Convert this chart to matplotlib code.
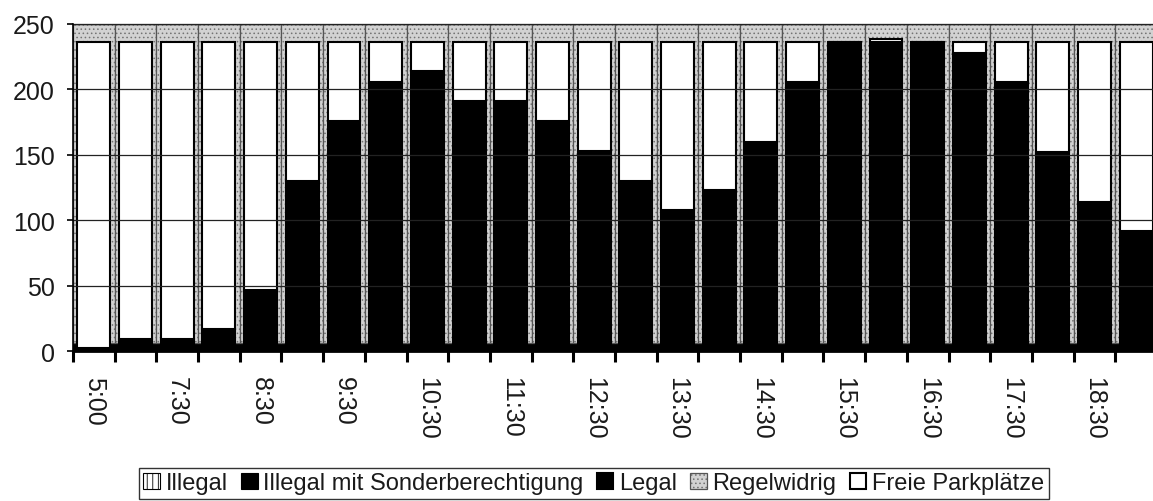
import matplotlib
matplotlib.use("Agg")
import matplotlib.pyplot as plt
import numpy as np

plt.rcParams['font.family'] = ['Liberation Sans', 'DejaVu Sans']
plt.rcParams['hatch.linewidth'] = 0.6

times = ["5:00", "7:00", "7:30", "8:00", "8:30", "9:00", "9:30", "10:00", "10:30",
         "11:00", "11:30", "12:00", "12:30", "13:00", "13:30", "14:00", "14:30",
         "15:00", "15:30", "16:00", "16:30", "17:00", "17:30", "18:00", "18:30", "19:00"]
illegal = [0, 0, 0, 0, 0, 0, 0, 0, 0, 0, 0, 0, 0, 0, 0, 0, 0, 0, 0, 0, 0, 0, 0, 0, 0, 0]
sonder = [6, 6, 6, 6, 6, 6, 6, 6, 6, 6, 6, 6, 6, 6, 6, 6, 6, 6, 6, 6, 6, 6, 6, 6, 6, 6]
legal = [2, 9, 9, 17, 47, 130, 176, 206, 214, 191, 191, 176, 153, 130, 108, 123,
         160, 206, 236, 236, 236, 228, 206, 152, 114, 92]
regelwidrig = [244, 244, 244, 244, 244, 244, 244, 244, 244, 244, 244, 244, 244,
               244, 244, 244, 244, 244, 244, 244, 244, 244, 244, 244, 244, 244]
frei = [234, 227, 227, 219, 189, 106, 60, 30, 22, 45, 45, 60, 83, 106, 128, 113,
        76, 30, 0, 2.5, 0, 8, 30, 84, 122, 144]
yticks = [0, 50, 100, 150, 200, 250]

x = np.arange(len(times))
fig = plt.figure(figsize=(11.53, 5.02), dpi=100)
ax = fig.add_axes([0.0633, 0.2988, 0.9402, 0.6514])

# full-width background columns
b_ill = ax.bar(x, illegal, width=1.0, color='white', edgecolor='black', hatch='|||',
               linewidth=0.8, zorder=1)
b_son = ax.bar(x, sonder, width=1.0, color='black', edgecolor='black', linewidth=0.8, zorder=1)
b_reg = ax.bar(x, regelwidrig, bottom=sonder, width=1.0, color='#d2d2d2',
               edgecolor='#555555', hatch='....', linewidth=0.9, zorder=1)
for p in b_reg:
    p._hatch_color = (0.45, 0.45, 0.45, 1.0)

ax.yaxis.grid(True, color='#222222', linewidth=0.9, zorder=1.5)
ax.set_axisbelow(False)
for gl in ax.get_ygridlines():
    gl.set_zorder(1.5)

# inner bars
b_leg = ax.bar(x, legal, width=0.79, color='black', edgecolor='black', linewidth=1.5, zorder=2)
b_fre = ax.bar(x, frei, bottom=legal, width=0.79, color='white', edgecolor='black',
               linewidth=1.5, zorder=2)

ax.set_xlim(-0.5, len(times) - 0.5)
ax.set_ylim(0, 250)
ax.set_yticks(yticks)
ax.set_yticklabels([str(v) for v in yticks], fontsize=18, color='#1a1a1a')

ax.set_xticks(x)
ax.set_xticklabels([t if i % 2 == 0 else '' for i, t in enumerate(times)],
                   rotation=270, fontsize=18, color='#1a1a1a', va='top', ha='center')
ax.tick_params(axis='x', which='major', length=0, pad=18)
ax.set_xticks(np.arange(-0.5, len(times), 1.0), minor=True)
ax.tick_params(axis='x', which='minor', length=8, width=2.2, direction='out', color='black')
ax.tick_params(axis='y', length=4, width=1.2, direction='out', color='black', pad=9)

for s in ['left', 'bottom']:
    ax.spines[s].set_color('black')
    ax.spines[s].set_zorder(3)
ax.spines['left'].set_linewidth(1.2)
ax.spines['bottom'].set_linewidth(2.0)
ax.spines['top'].set_color('#555555')
ax.spines['top'].set_linewidth(1.0)
ax.spines['right'].set_visible(False)

handles = [b_ill, b_son, b_leg, b_reg, b_fre]
labels = ["Illegal", "Illegal mit Sonderberechtigung", "Legal", "Regelwidrig", "Freie Parkplätze"]
leg = fig.legend(handles, labels, loc='center', bbox_to_anchor=(0.515, 0.035), ncol=5,
                 fontsize=17, frameon=True, fancybox=False, edgecolor='black',
                 handlelength=0.7, handleheight=0.7, handletextpad=0.25,
                 columnspacing=0.55, borderpad=0.2, borderaxespad=0.0)
leg.get_frame().set_linewidth(1.0)
for t in leg.get_texts():
    t.set_color('#1a1a1a')

fig.savefig("out.png", dpi=100, facecolor='white')
